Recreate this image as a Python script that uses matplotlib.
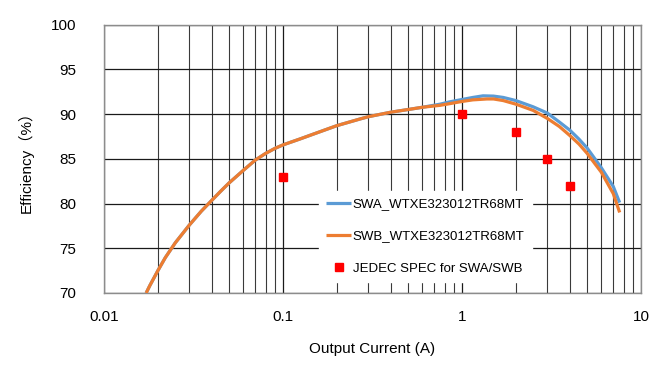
import matplotlib
matplotlib.use("Agg")
import matplotlib.pyplot as plt
from matplotlib.ticker import LogLocator, FixedLocator, NullFormatter, FixedFormatter

plt.rcParams['font.family'] = ['Liberation Sans', 'Noto Sans CJK SC', 'DejaVu Sans']

# Data
current_swa = [0.0172, 0.018, 0.02, 0.022, 0.025, 0.03, 0.035, 0.04, 0.045, 0.05, 0.06, 0.07, 0.08,
               0.09, 0.1, 0.124, 0.15, 0.2, 0.27, 0.3, 0.4, 0.5, 0.6, 0.755, 0.85, 1.0, 1.15, 1.31,
               1.5, 1.7, 2.0, 2.5, 3.0, 3.5, 4.0, 4.5, 5.0, 6.0, 7.0, 7.6]
eff_swa = [70.0, 70.8, 72.5, 73.95, 75.6, 77.6, 79.15, 80.35, 81.4, 82.3, 83.7, 84.85, 85.6,
           86.15, 86.55, 87.2, 87.8, 88.7, 89.45, 89.7, 90.2, 90.5, 90.75, 91.1, 91.35, 91.62, 91.85, 92.03,
           92.0, 91.85, 91.5, 90.8, 90.1, 89.1, 88.2, 87.2, 86.2, 84.0, 81.9, 80.1]

current_swb = [0.0172, 0.018, 0.02, 0.022, 0.025, 0.03, 0.035, 0.04, 0.045, 0.05, 0.06, 0.07, 0.08,
               0.09, 0.1, 0.124, 0.15, 0.2, 0.27, 0.3, 0.4, 0.5, 0.6, 0.755, 0.85, 1.0, 1.15, 1.38,
               1.5, 1.7, 2.0, 2.5, 3.0, 3.5, 4.0, 4.5, 5.0, 6.0, 7.0, 7.6]
eff_swb = [70.0, 70.8, 72.5, 73.95, 75.6, 77.6, 79.15, 80.35, 81.4, 82.3, 83.7, 84.85, 85.6,
           86.15, 86.55, 87.2, 87.8, 88.7, 89.45, 89.7, 90.2, 90.5, 90.75, 90.97, 91.15, 91.4, 91.58, 91.68,
           91.68, 91.5, 91.1, 90.4, 89.5, 88.6, 87.6, 86.65, 85.6, 83.5, 81.1, 79.0]

jedec_current = [0.1, 1, 2, 3, 4]
jedec_eff = [83, 90, 88, 85, 82]

x_ticks = [0.01, 0.1, 1, 10]
x_tick_labels = ["0.01", "0.1", "1", "10"]
y_ticks = [70, 75, 80, 85, 90, 95, 100]

labels = ["SWA_WTXE323012TR68MT", "SWB_WTXE323012TR68MT", "JEDEC SPEC for SWA/SWB"]

fig = plt.figure(figsize=(6.6, 3.66), dpi=100)
ax = fig.add_axes([104/660, 1 - 293/366, (641-104)/660, (293-24.5)/366])

ax.set_xscale('log')
ax.set_xlim(0.01, 10)
ax.set_ylim(70, 100)

ax.xaxis.set_major_locator(FixedLocator(x_ticks))
ax.xaxis.set_major_formatter(FixedFormatter(x_tick_labels))
ax.xaxis.set_minor_locator(LogLocator(base=10, subs=range(2, 10)))
ax.xaxis.set_minor_formatter(NullFormatter())
ax.yaxis.set_major_locator(FixedLocator(y_ticks))

ax.grid(True, which='major', axis='both', color='#1a1a1a', linewidth=0.9)
ax.grid(True, which='minor', axis='x', color='#3a3a3a', linewidth=0.8)
ax.set_axisbelow(True)

ax.tick_params(which='both', length=0)
ax.tick_params(axis='y', pad=20, labelsize=11)
ax.tick_params(axis='x', pad=12, labelsize=11)

for s in ax.spines.values():
    s.set_color('#8c8c8c')
    s.set_linewidth(1.0)

ax.plot(current_swa, eff_swa, color='#5B9BD5', linewidth=2.3, label=labels[0],
        solid_capstyle='butt', solid_joinstyle='round', zorder=3)
ax.plot(current_swb, eff_swb, color='#ED7D31', linewidth=2.3, label=labels[1],
        solid_capstyle='butt', solid_joinstyle='round', zorder=4)
ax.plot(jedec_current, jedec_eff, linestyle='none', marker='s', markersize=5.5,
        color='#FF0000', label=labels[2], zorder=5)

ax.set_xlabel("Output Current (A)", fontsize=11, labelpad=13)
ax.set_ylabel("Efficiency（%）", fontsize=11, labelpad=12)

leg = ax.legend(loc='upper left', bbox_to_anchor=((319-104)/537, (293-191)/268.5),
                fontsize=9.5, frameon=True, framealpha=1, facecolor='white', edgecolor='white',
                fancybox=False, handlelength=1.9, handletextpad=0.1, labelspacing=1.5,
                borderpad=0.55, borderaxespad=0)
leg.set_zorder(6)

fig.savefig("out.png", dpi=100, facecolor='white')
